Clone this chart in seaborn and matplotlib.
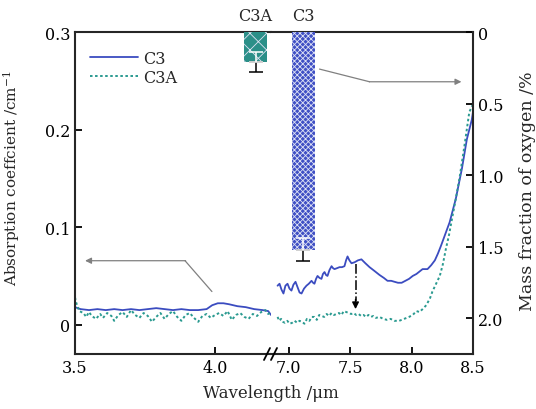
import numpy as np
import pandas as pd
import matplotlib
matplotlib.use("Agg")
import matplotlib.pyplot as plt
import seaborn as sns
from matplotlib.lines import Line2D

# ---------------- data ----------------
c3_left_x = [3.50, 3.52, 3.55, 3.58, 3.61, 3.64, 3.67, 3.70, 3.73, 3.76, 3.79, 3.82, 3.85,
             3.88, 3.91, 3.94, 3.97, 3.99, 4.01, 4.03, 4.05, 4.08, 4.11, 4.14, 4.17, 4.19, 4.20]
c3_left_y = [0.018, 0.016, 0.015, 0.016, 0.015, 0.016, 0.015, 0.016, 0.015, 0.016, 0.017, 0.016, 0.015,
             0.016, 0.015, 0.015, 0.016, 0.020, 0.022, 0.022, 0.021, 0.019, 0.018, 0.016, 0.015, 0.014, 0.010]

c3a_left_x = [3.500, 3.505, 3.515, 3.53, 3.54, 3.55, 3.56, 3.575, 3.59, 3.60, 3.615, 3.63, 3.64,
              3.655, 3.67, 3.685, 3.70, 3.715, 3.73, 3.745, 3.76, 3.775, 3.79, 3.805, 3.82, 3.835,
              3.85, 3.865, 3.88, 3.895, 3.91, 3.925, 3.94, 3.955, 3.97, 3.985, 4.00, 4.015, 4.03,
              4.045, 4.06, 4.075, 4.09, 4.105, 4.12, 4.135, 4.15, 4.165, 4.18, 4.19, 4.20]
c3a_left_y = [0.028, 0.022, 0.014, 0.012, 0.008, 0.013, 0.009, 0.006, 0.011, 0.007, 0.012, 0.009, 0.004,
              0.010, 0.013, 0.008, 0.015, 0.010, 0.007, 0.012, 0.009, 0.003, 0.008, 0.012, 0.006, 0.011,
              0.014, 0.008, 0.004, 0.010, 0.012, 0.007, 0.003, 0.009, 0.011, 0.007, 0.010, 0.012, 0.009,
              0.014, 0.005, 0.010, 0.012, 0.008, 0.006, 0.011, 0.009, 0.013, 0.015, 0.011, 0.013]

c3_right_x = [6.911, 6.927, 6.943, 6.959, 6.975, 6.992, 7.008, 7.024, 7.040, 7.057, 7.075, 7.090,
              7.106, 7.126, 7.146, 7.165, 7.187, 7.200, 7.211, 7.224, 7.236, 7.252, 7.268, 7.280,
              7.293, 7.305, 7.317, 7.333, 7.350, 7.362, 7.374, 7.395, 7.415, 7.435, 7.455, 7.468,
              7.480, 7.495, 7.512, 7.537, 7.565, 7.593, 7.625, 7.659, 7.700, 7.740, 7.775, 7.805,
              7.835, 7.862, 7.890, 7.920, 7.950, 7.980, 8.010, 8.040, 8.070, 8.090, 8.130, 8.160,
              8.190, 8.215, 8.240, 8.275, 8.310, 8.360, 8.410, 8.450, 8.490, 8.500]
c3_right_y = [0.040, 0.042, 0.036, 0.032, 0.040, 0.042, 0.037, 0.035, 0.041, 0.044, 0.038, 0.033,
              0.032, 0.037, 0.040, 0.042, 0.045, 0.043, 0.042, 0.047, 0.050, 0.048, 0.047, 0.052,
              0.054, 0.051, 0.050, 0.056, 0.060, 0.058, 0.057, 0.058, 0.059, 0.059, 0.060, 0.066,
              0.070, 0.066, 0.063, 0.064, 0.066, 0.067, 0.063, 0.059, 0.055, 0.051, 0.048, 0.045,
              0.045, 0.044, 0.043, 0.043, 0.045, 0.047, 0.050, 0.052, 0.055, 0.057, 0.057, 0.061,
              0.066, 0.073, 0.081, 0.093, 0.105, 0.129, 0.160, 0.190, 0.210, 0.218]

c3a_right_x = [6.911, 6.925, 6.940, 6.955, 6.970, 6.990, 7.010, 7.030, 7.050, 7.070, 7.090, 7.110,
               7.130, 7.150, 7.170, 7.190, 7.210, 7.230, 7.250, 7.270, 7.290, 7.310, 7.330, 7.350,
               7.370, 7.390, 7.410, 7.430, 7.450, 7.470, 7.490, 7.510, 7.530, 7.550, 7.570, 7.590,
               7.610, 7.630, 7.650, 7.670, 7.690, 7.710, 7.740, 7.770, 7.800, 7.830, 7.860, 7.900,
               7.940, 7.980, 8.010, 8.040, 8.065, 8.090, 8.120, 8.150, 8.170, 8.200, 8.230, 8.255,
               8.280, 8.305, 8.330, 8.360, 8.390, 8.430, 8.470, 8.500]
c3a_right_y = [0.008, 0.004, 0.006, 0.003, 0.002, 0.004, 0.001, 0.002, 0.004, 0.002, 0.004, 0.003,
               0.001, 0.006, 0.004, 0.008, 0.008, 0.005, 0.010, 0.009, 0.008, 0.011, 0.009, 0.012,
               0.010, 0.011, 0.012, 0.010, 0.014, 0.013, 0.012, 0.011, 0.012, 0.010, 0.011, 0.009,
               0.010, 0.008, 0.010, 0.008, 0.009, 0.007, 0.008, 0.006, 0.005, 0.006, 0.004, 0.004,
               0.006, 0.008, 0.010, 0.014, 0.013, 0.016, 0.020, 0.027, 0.034, 0.042, 0.050, 0.062,
               0.078, 0.092, 0.109, 0.129, 0.150, 0.183, 0.218, 0.226]

bar_labels = ["C3A", "C3"]
bar_pos = [4.145, 7.118]
bar_width = [0.082, 0.187]
oxygen_mass = [0.21, 1.52]
oxygen_err = [0.07, 0.08]

# ---------------- style ----------------
sns.set_theme(style="ticks")
plt.rcParams["font.family"] = ["DejaVu Serif"]
plt.rcParams["mathtext.fontset"] = "dejavuserif"
plt.rcParams["axes.linewidth"] = 1.5
plt.rcParams["hatch.linewidth"] = 0.6

BLUE = "#3b4cc0"
TEAL = "#2a9a90"
BAR_TEAL = "#2b8f88"
BAR_BLUE = "#3f4fc4"
FS = 11.5

fig = plt.figure(figsize=(5.36, 4.10), dpi=100)
x0, x_break, x1 = 75 / 536, 271 / 536, 473 / 536
y0, y1 = 1 - 355 / 410, 1 - 33 / 410
axL = fig.add_axes([x0, y0, x_break - x0, y1 - y0])
axR = fig.add_axes([x_break, y0, x1 - x_break, y1 - y0])

dfL3 = pd.DataFrame({"x": c3_left_x, "y": c3_left_y})
dfLA = pd.DataFrame({"x": c3a_left_x, "y": c3a_left_y})
dfR3 = pd.DataFrame({"x": c3_right_x, "y": c3_right_y})
dfRA = pd.DataFrame({"x": c3a_right_x, "y": c3a_right_y})

dot = (0, (1.3, 1.3))
sns.lineplot(data=dfL3, x="x", y="y", ax=axL, color=BLUE, lw=1.3, estimator=None, sort=False, label="C3")
sns.lineplot(data=dfLA, x="x", y="y", ax=axL, color=TEAL, lw=1.4, estimator=None, sort=False, label="C3A",
             linestyle=dot)
sns.lineplot(data=dfR3, x="x", y="y", ax=axR, color=BLUE, lw=1.3, estimator=None, sort=False)
sns.lineplot(data=dfRA, x="x", y="y", ax=axR, color=TEAL, lw=1.4, estimator=None, sort=False, linestyle=dot)

for ax in (axL, axR):
    ax.set_ylim(-0.03, 0.3)
    ax.set_xlabel("")
    ax.set_ylabel("")
    ax.tick_params(direction="in", length=5, width=1.3, labelsize=FS, colors="black")

axL.set_xlim(3.5, 3.5 + (271 - 75) / 280)
axR.set_xlim(8.5 - (473 - 271) / 123, 8.5)
axL.set_xticks([3.5, 4.0])
axL.set_xticklabels(["3.5", "4.0"])
axR.set_xticks([7.0, 7.5, 8.0, 8.5])
axR.set_xticklabels(["7.0", "7.5", "8.0", "8.5"])
axL.set_yticks([0, 0.1, 0.2, 0.3])
axL.set_yticklabels(["0", "0.1", "0.2", "0.3"])
axR.set_yticks([])
axL.spines["right"].set_visible(False)
axR.spines["left"].set_visible(False)
axR.spines["right"].set_visible(False)

# twin axes for oxygen mass fraction
twL = axL.twinx()
twR = axR.twinx()
for tw in (twL, twR):
    tw.set_ylim(2.25, 0)
    for s in tw.spines.values():
        s.set_visible(False)
twL.set_yticks([])
twR.spines["right"].set_visible(True)
twR.spines["right"].set_linewidth(1.5)
twR.set_yticks([0, 0.5, 1.0, 1.5, 2.0])
twR.set_yticklabels(["0", "0.5", "1.0", "1.5", "2.0"])
twR.tick_params(direction="in", length=5, width=1.3, labelsize=FS, colors="black")

bar_axes = [twL, twR]
bar_colors = [BAR_TEAL, BAR_BLUE]
bar_hatch = ["xx", "xxxxxx"]
for tw, lab, xp, w, v, e, c, h in zip(bar_axes, bar_labels, bar_pos, bar_width, oxygen_mass,
                                      oxygen_err, bar_colors, bar_hatch):
    tw.bar([xp], [v], width=w, bottom=0, color=c, edgecolor="#dfe3f5", linewidth=0, hatch=h, zorder=3)
    tw.errorbar([xp], [v], yerr=[[0], [e]], color="black", capsize=5, elinewidth=1.1, capthick=1.1,
                fmt="none", zorder=4)
    tw.errorbar([xp], [v], yerr=[[e], [0]], color="white", capsize=5, elinewidth=1.1, capthick=1.1,
                fmt="none", zorder=4)
    tw.text(xp, 1.025, lab, transform=tw.get_xaxis_transform(), ha="center", va="bottom", fontsize=FS)

# arrows
axL.plot([3.989, 3.893], [0.034, 0.0656], color="gray", lw=0.9)
axL.annotate("", xy=(3.536, 0.0656), xytext=(3.895, 0.0656),
             arrowprops=dict(arrowstyle="-|>", color="gray", lw=0.9, mutation_scale=9, shrinkA=0, shrinkB=0))
axR.plot([7.252, 7.659], [0.262, 0.249], color="gray", lw=0.9)
axR.annotate("", xy=(8.406, 0.249), xytext=(7.657, 0.249),
             arrowprops=dict(arrowstyle="-|>", color="gray", lw=0.9, mutation_scale=9, shrinkA=0, shrinkB=0))
axR.plot([7.545, 7.545], [0.062, 0.024], color="black", lw=1.1, linestyle="-.")
axR.annotate("", xy=(7.545, 0.016), xytext=(7.545, 0.026),
             arrowprops=dict(arrowstyle="-|>", color="black", lw=1.0, mutation_scale=10, shrinkA=0, shrinkB=0))

# legend
leg = axL.legend(frameon=False, loc="upper left", bbox_to_anchor=(0.03, 0.975), handlelength=3.0,
                 fontsize=FS, labelspacing=0.15, handletextpad=0.3, borderaxespad=0.2)

# labels
axL.set_ylabel("Absorption coeffcient /cm$^{-1}$", fontsize=11)
axL.yaxis.set_label_coords(-0.27, 0.55)
twR.set_ylabel("Mass fraction of oxygen /%", fontsize=12.5, labelpad=8)
twR.yaxis.set_label_coords(1 + 46 / 202, 0.51)
fig.text(x_break, 0.02, "Wavelength /\u03bcm", ha="center", va="bottom", fontsize=12)

# break marks on the x axis
for dx in (-4, 3):
    xa = (271 + dx - 3) / 536
    xb = (271 + dx + 3) / 536
    fig.add_artist(Line2D([xa, xb], [y0 - 6 / 410, y0 + 6 / 410], transform=fig.transFigure,
                          color="black", lw=1.3))

fig.savefig("out.png", dpi=100)
